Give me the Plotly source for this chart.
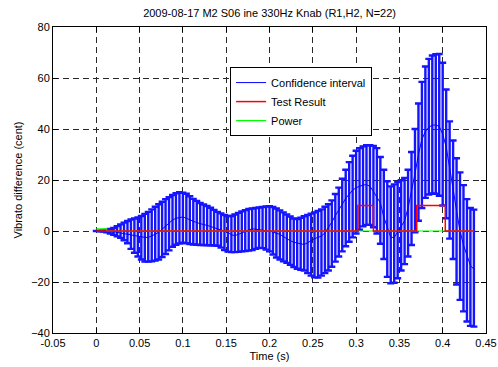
import plotly.graph_objects as go

time_s = [0.000, 0.004, 0.008, 0.012, 0.016, 0.020, 0.024, 0.028, 0.032, 0.036,
          0.040, 0.044, 0.048, 0.052, 0.056, 0.060, 0.064, 0.068, 0.072, 0.076,
          0.080, 0.084, 0.088, 0.092, 0.096, 0.100, 0.104, 0.108, 0.112, 0.116,
          0.120, 0.124, 0.128, 0.132, 0.136, 0.140, 0.144, 0.148, 0.152, 0.156,
          0.160, 0.164, 0.168, 0.172, 0.176, 0.180, 0.184, 0.188, 0.192, 0.196,
          0.200, 0.204, 0.208, 0.212, 0.216, 0.220, 0.224, 0.228, 0.232, 0.236,
          0.240, 0.244, 0.248, 0.252, 0.256, 0.260, 0.264, 0.268, 0.272, 0.276,
          0.280, 0.284, 0.288, 0.292, 0.296, 0.300, 0.304, 0.308, 0.312, 0.316,
          0.320, 0.324, 0.328, 0.332, 0.336, 0.340, 0.344, 0.348, 0.352, 0.356,
          0.360, 0.364, 0.368, 0.372, 0.376, 0.380, 0.384, 0.388, 0.392, 0.396,
          0.400, 0.404, 0.408, 0.412, 0.416, 0.420, 0.424, 0.428, 0.432, 0.436]

mean_cent = [0, 0, 0, -0.1, -0.2, -0.3, -0.5, -0.7, -0.9, -1.2,
             -1.5, -1.8, -2.1, -2.3, -2.5, -2.5, -2.0, -1.3, -0.5, 0.7,
             2.0, 3.2, 4.3, 5.0, 5.4, 5.5, 5.0, 4.3, 3.8, 3.3,
             2.8, 2.5, 2.2, 1.8, 1.4, 1.0, 0.6, 0.1, -0.5, -1.5,
             -1.8, -1.3, -0.7, -0.1, 0.5, 0.9, 0.7, 0.4, 0.2, 0.1,
             0.0, -0.4, -0.8, -1.3, -2.2, -3.1, -3.8, -4.4, -4.8, -5.1,
             -5.3, -4.6, -3.7, -3.0, -2.5, -2.0, -0.7, 1.2, 3.5, 6.0,
             8.0, 10.5, 12.8, 14.5, 16.0, 17.0, 17.6, 18.0, 18.2, 17.5,
             15.5, 13.5, 11.0, 5.5, 1.0, -2.5, -2.5, -0.5, 1.5, 4.0,
             9.0, 15.5, 22.5, 30.0, 36.0, 39.0, 40.7, 41.5, 41.6, 41.0,
             38.0, 33.0, 24.0, 16.5, 8.0, 0.0, -5.5, -10.0, -13.5, -15.0]

upper_cent = [0, 0.1, 0.2, 0.4, 0.8, 1.2, 1.9, 2.6, 3.3, 3.9,
              4.5, 4.9, 5.3, 5.9, 6.7, 7.5, 8.5, 9.5, 10.5, 11.5,
              12.5, 13.3, 14.1, 14.8, 15.2, 15.0, 14.6, 13.6, 12.6, 11.8,
              11.0, 10.4, 9.8, 9.1, 8.3, 7.5, 6.9, 6.3, 5.9, 5.9,
              6.5, 7.1, 7.7, 8.2, 8.6, 8.8, 9.0, 9.2, 9.4, 9.6,
              9.7, 9.4, 8.8, 8.1, 7.3, 6.5, 5.7, 4.9, 4.7, 5.2,
              5.8, 6.3, 6.8, 7.3, 7.9, 8.5, 9.5, 10.5, 12.0, 14.5,
              17.0, 20.5, 24.0, 27.0, 29.5, 31.5, 32.5, 33.2, 33.6, 33.6,
              33.4, 32.5, 29.0, 24.0, 19.5, 17.5, 18.3, 19.2, 19.9, 20.8,
              24.0, 31.0, 40.0, 50.0, 58.5, 64.5, 67.5, 68.8, 69.3, 69.4,
              66.0, 55.5, 43.0, 35.5, 28.5, 23.0, 18.0, 12.5, 9.0, 8.4]

lower_cent = [0, -0.1, -0.2, -0.5, -1.0, -1.5, -2.1, -2.7, -3.6, -4.8,
              -7.0, -8.5, -10.0, -11.2, -12.0, -12.0, -11.9, -11.6, -11.2, -10.2,
              -9.0, -7.6, -6.2, -5.4, -4.9, -4.6, -4.8, -5.1, -5.3, -5.4,
              -5.5, -5.5, -5.6, -5.6, -5.7, -5.8, -6.5, -7.5, -8.1, -8.3,
              -8.3, -8.2, -8.0, -7.9, -7.7, -7.5, -7.0, -6.6, -6.7, -7.3,
              -8.0, -9.2, -10.4, -11.2, -11.9, -12.5, -13.3, -14.1, -14.8, -15.2,
              -15.5, -16.5, -17.5, -18.2, -18.3, -17.5, -16.5, -15.5, -14.0, -12.0,
              -10.0, -8.0, -6.0, -4.2, -2.5, -1.0, 0.5, 1.8, 2.4, 2.4,
              1.5, -1.0, -5.0, -11.0, -18.0, -20.5, -20.3, -18.5, -15.5, -13.0,
              -10.0, -5.5, -0.5, 4.0, 9.0, 13.0, 14.3, 14.7, 14.6, 13.8,
              10.0, 5.0, -3.0, -11.0, -21.0, -27.0, -31.5, -35.5, -37.2, -37.5]

test_time = [0.000, 0.302, 0.320, 0.370, 0.403, 0.436]
test_value = [0, 10, 0, 10, 0, 0]

power_time = [0.000, 0.012, 0.436]
power_value = [0.8, 0, 0]

x_ticks = [-0.05, 0, 0.05, 0.1, 0.15, 0.2, 0.25, 0.3, 0.35, 0.4, 0.45]
x_tick_text = ["-0.05", "0", "0.05", "0.1", "0.15", "0.2", "0.25", "0.3", "0.35", "0.4", "0.45"]
y_ticks = [-40, -20, 0, 20, 40, 60, 80]

err_plus = [u - m for u, m in zip(upper_cent, mean_cent)]
err_minus = [m - l for m, l in zip(mean_cent, lower_cent)]

font = "Liberation Sans, Arial, Helvetica, sans-serif"

fig = go.Figure()
fig.add_trace(go.Scatter(
    x=time_s, y=mean_cent, mode="lines", name="Confidence interval",
    line=dict(color="rgb(0,0,255)", width=1),
    error_y=dict(type="data", symmetric=False, array=err_plus, arrayminus=err_minus,
                 color="rgb(20,20,255)", thickness=2.4, width=3.5),
    legendrank=1,
))
fig.add_trace(go.Scatter(
    x=power_time, y=power_value, mode="lines", name="Power", line_shape="hv",
    line=dict(color="rgb(0,255,0)", width=1.2), legendrank=3,
))
fig.add_trace(go.Scatter(
    x=test_time, y=test_value, mode="lines", name="Test Result", line_shape="hv",
    line=dict(color="rgb(255,0,0)", width=1.5), legendrank=2,
))

axis_common = dict(
    showline=True, linecolor="black", linewidth=1, mirror="ticks",
    ticks="inside", ticklen=5, tickcolor="black",
    showgrid=True, gridcolor="rgb(40,40,40)", gridwidth=1, griddash="6px,4px",
    zeroline=False, tickfont=dict(family=font, size=11, color="black"),
    automargin=False,
)

fig.update_xaxes(range=[-0.05, 0.45], tickvals=x_ticks, ticktext=x_tick_text,
                 title=dict(text="Time (s)", font=dict(family=font, size=11, color="black"), standoff=4),
                 **axis_common)
fig.update_yaxes(range=[-40, 80], tickvals=y_ticks,
                 title=dict(text="Vibrato difference (cent)", font=dict(family=font, size=11, color="black"), standoff=6),
                 **axis_common)

fig.update_layout(
    width=498, height=367,
    margin=dict(l=53, r=12, t=27, b=34),
    paper_bgcolor="white", plot_bgcolor="white",
    title=dict(text="2009-08-17 M2 S06 ine 330Hz Knab (R1,H2, N=22)",
               x=0.5413, xanchor="center", y=0.965, yanchor="middle",
               font=dict(family=font, size=11, color="black")),
    showlegend=True,
    legend=dict(x=0.409, y=0.869, xanchor="left", yanchor="top",
                bgcolor="white", bordercolor="black", borderwidth=1,
                font=dict(family=font, size=11, color="black"),
                tracegroupgap=0, itemwidth=30),
    font=dict(family=font),
)

fig.write_html("out.html", config={"displayModeBar": False},
               post_script="document.body.style.margin='0';document.body.style.overflow='hidden';")
